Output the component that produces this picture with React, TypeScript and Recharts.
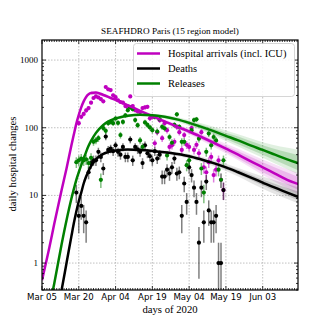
import {
  ComposedChart,
  Line,
  Area,
  Scatter,
  ErrorBar,
  XAxis,
  YAxis,
  CartesianGrid,
} from "recharts";

const W = 332;
const H = 332;
const PLOT_TOP = 40;
const PLOT_LEFT = 42;
const PLOT_RIGHT = 298;
const PLOT_BOTTOM = 290;
const X_MAX = 104.4;

const MAGENTA = "#bf00bf";
const GREEN = "#008000";
const BLACK = "#000000";

// x axis: days since Mar 05 2020
const X_MAJOR = [0, 15, 30, 45, 60, 75, 90];
const X_LABELS = ["Mar 05", "Mar 20", "Apr 04", "Apr 19", "May 04", "May 19", "Jun 03"];
const X_TICKS = Array.from({ length: 105 }, (_, i) => i);

const Y_MAJOR = [1, 10, 100, 1000];
const Y_TICKS = [
  0.4, 0.5, 0.6, 0.7, 0.8, 0.9,
  1, 2, 3, 4, 5, 6, 7, 8, 9,
  10, 20, 30, 40, 50, 60, 70, 80, 90,
  100, 200, 300, 400, 500, 600, 700, 800, 900,
  1000,
];

// observed daily counts
const HOSP_START = 15;
const HOSP_VALUES = [
  117, 145, 160, 180, 195, 235, 275, 290, 280, 265, 246, 400, 370, 360, 302,
  283, 255, 240, 235, 209, 200, 290, 209, 182, 175, 170, 195, 200, 204, 138,
  144, 59, 86, 129, 70, 117, 92, 52, 55, 62, 103, 86, 47, 78, 56,
  52, 99, 47, 56, 42, 86, 26, 22, 31, 37, 20, 24, 33, 17, 12,
];

const DEATH_START = 14;
const DEATH_VALUES = [
  11, 5, 7, 5, 4, 22, 30, 33, 33, 44, 37, 25, 74, 47, 49, 45,
  55, 44, 40, 52, 37, 37, 67, 33, 52, 48, 44, 30, 55, 42, 38,
  33, 45, 35, 40, 19, 19, 24, 21, 26, 35, 21, 22, 5, 15, 8,
  26, 20, 13, 8, 2, 13, 4, 16, 6, 4, 4, 5, 1, 1, 12,
];

const RELEASE_START = 14;
const RELEASE_VALUES = [
  31, 33, 35, 33, 34, 30, 36,
  62, 65, 70, 17, 99, 90, 117, 122, 117, 137,
  118, 78, 122, 153, 182, 200, 188, 130, 109, 65,
  52, 120, 110, 101, 92, 144, 88, 133, 103, 98,
  39, 73, 60, 110, 158, 103, 62, 62, 28, 33,
  92, 130, 133, 69, 25, 11, 44, 82, 55, 73,
  65, 24, 17, 33,
];

// model fits
const MODEL_DAYS = [0, 3, 5, 8, 10, 12, 13, 14, 15, 16, 17, 18, 19, 20, 22, 25, 30, 35, 40, 45, 50, 55, 60, 65, 70, 75, 80, 85, 90, 95, 100, 105];
const HOSP_MODEL = [0.56, 1.7, 3.8, 12, 25, 55, 80, 115, 155, 200, 245, 285, 312, 326, 332, 305, 258, 215, 178, 148, 124, 104, 88, 73, 60, 49, 40, 32, 26, 21, 17, 14.5];
const RELEASE_MODEL = [0.056, 0.22, 0.5, 1.9, 4.3, 9, 12.5, 17, 22, 28, 35, 44, 54, 64, 84, 110, 137, 150, 155, 153, 145, 133, 118, 103, 89, 76, 65, 55, 47, 40, 34, 29.5];
const DEATH_MODEL = [0.01, 0.04, 0.1, 0.4, 1.0, 2.5, 3.9, 5.8, 8.2, 11, 15, 19, 23, 27, 34, 41, 46, 47.5, 47, 45.5, 43.5, 41, 38, 34, 30, 26, 22, 18.5, 15.5, 13, 11, 9.3];

// uncertainty bands
const BAND_DAYS = [20, 25, 30, 40, 50, 60, 70, 80, 90, 105];
const HOSP_OUTER_LO = [302, 288, 246, 170, 116, 80, 52, 33, 20, 10.2];
const HOSP_OUTER_HI = [352, 323, 271, 187, 133, 97, 69, 49, 34, 21];
const HOSP_INNER_LO = [311, 294, 251, 173, 119, 83, 55, 35, 22, 11.8];
const HOSP_INNER_HI = [342, 317, 266, 183, 129, 93, 65, 45, 31, 18.5];
const RELEASE_OUTER_LO = [59, 104, 130, 148, 136, 107, 77, 53, 36, 20];
const RELEASE_OUTER_HI = [69, 117, 144, 163, 155, 130, 103, 80, 61, 47];
const RELEASE_INNER_LO = [61, 106, 133, 151, 140, 111, 81, 57, 40, 23];
const RELEASE_INNER_HI = [67, 114, 141, 159, 150, 125, 97, 74, 55, 39];
const DEATH_OUTER_LO = [25, 39, 44, 45, 41, 35, 27, 19, 12.5, 7.5];
const DEATH_OUTER_HI = [29, 43.5, 48.5, 49.5, 46, 41, 33.5, 25.5, 19, 13];
const DEATH_INNER_LO = [26, 40, 45, 46, 42, 36.5, 28.5, 20.5, 14, 8.3];
const DEATH_INNER_HI = [28, 42, 47, 48, 45, 39.5, 31.5, 24, 17.2, 11.2];

const band = (day: number, lo: number[], hi: number[]) => {
  const i = BAND_DAYS.indexOf(day);
  return i < 0 ? null : [lo[i], hi[i]];
};

const MODEL_ROWS = MODEL_DAYS.map((day, i) => ({
  day,
  hosp: HOSP_MODEL[i],
  release: RELEASE_MODEL[i],
  death: DEATH_MODEL[i],
  hospOuter: band(day, HOSP_OUTER_LO, HOSP_OUTER_HI),
  hospInner: band(day, HOSP_INNER_LO, HOSP_INNER_HI),
  releaseOuter: band(day, RELEASE_OUTER_LO, RELEASE_OUTER_HI),
  releaseInner: band(day, RELEASE_INNER_LO, RELEASE_INNER_HI),
  deathOuter: band(day, DEATH_OUTER_LO, DEATH_OUTER_HI),
  deathInner: band(day, DEATH_INNER_LO, DEATH_INNER_HI),
}));

// poisson error bars, lower end kept inside the axis range
const toPoints = (start: number, values: number[]) =>
  values.map((v, i) => {
    const s = Math.sqrt(v);
    return { day: start + i, value: v, err: [v - Math.max(v - s, 0.41), s] };
  });

const hospPoints = toPoints(HOSP_START, HOSP_VALUES);
const deathPoints = toPoints(DEATH_START, DEATH_VALUES);
const releasePoints = toPoints(RELEASE_START, RELEASE_VALUES);

const dot = (color: string) => (props: any) =>
  <circle cx={props.cx} cy={props.cy} r={2.1} fill={color} />;

const renderXTick = (props: any) => {
  const { x, y, payload } = props;
  const idx = X_MAJOR.indexOf(payload.value);
  const len = idx >= 0 ? 4 : 2;
  return (
    <g>
      <line x1={x} y1={y} x2={x} y2={y - len} stroke="#000" strokeWidth={0.8} />
      <line x1={x} y1={PLOT_TOP} x2={x} y2={PLOT_TOP + len} stroke="#000" strokeWidth={0.8} />
      {idx >= 0 && (
        <text x={x} y={y + 10} textAnchor="middle" fontFamily="DejaVu Sans" fontSize={8.6} fill="#000">
          {X_LABELS[idx]}
        </text>
      )}
    </g>
  );
};

const renderYTick = (props: any) => {
  const { y, payload } = props;
  const major = Y_MAJOR.includes(payload.value);
  const len = major ? 4 : 2;
  return (
    <g>
      <line x1={PLOT_LEFT} y1={y} x2={PLOT_LEFT + len} y2={y} stroke="#000" strokeWidth={0.8} />
      <line x1={PLOT_RIGHT - len} y1={y} x2={PLOT_RIGHT} y2={y} stroke="#000" strokeWidth={0.8} />
      {major && (
        <text x={PLOT_LEFT - 4} y={y + 3} textAnchor="end" fontFamily="Liberation Serif" fontSize={9} fill="#000">
          {payload.value}
        </text>
      )}
    </g>
  );
};

const LEGEND = [
  { label: "Hospital arrivals (incl. ICU)", color: MAGENTA },
  { label: "Deaths", color: BLACK },
  { label: "Releases", color: GREEN },
];

export default function App() {
  return (
    <div style={{ position: "fixed", left: 0, top: 0, width: W, height: H, background: "#fff" }}>
      <ComposedChart
        width={W}
        height={H}
        data={MODEL_ROWS}
        margin={{ top: PLOT_TOP, right: W - PLOT_RIGHT, bottom: 0, left: 0 }}
      >
        <CartesianGrid
          verticalValues={X_MAJOR.slice(1)}
          horizontalValues={Y_MAJOR}
          stroke="#b0b0b0"
          strokeDasharray="1.5 1.5"
          strokeWidth={0.8}
        />
        <XAxis
          dataKey="day"
          type="number"
          domain={[0, X_MAX]}
          allowDataOverflow
          ticks={X_TICKS}
          interval={0}
          tick={renderXTick}
          tickLine={false}
          axisLine={false}
          tickSize={0}
          tickMargin={0}
          height={H - PLOT_BOTTOM}
        />
        <YAxis
          type="number"
          scale="log"
          domain={[0.4, 1980]}
          allowDataOverflow
          ticks={Y_TICKS}
          interval={0}
          tick={renderYTick}
          tickLine={false}
          axisLine={false}
          tickSize={0}
          tickMargin={0}
          width={PLOT_LEFT}
        />

        <Scatter data={hospPoints} dataKey="value" shape={dot(MAGENTA)} isAnimationActive={false}>
          <ErrorBar dataKey="err" direction="y" width={0} stroke="rgba(191,0,191,0.5)" strokeWidth={1.5} />
        </Scatter>
        <Scatter data={deathPoints} dataKey="value" shape={dot(BLACK)} isAnimationActive={false}>
          <ErrorBar dataKey="err" direction="y" width={0} stroke="rgba(0,0,0,0.5)" strokeWidth={1.5} />
        </Scatter>
        <Scatter data={releasePoints} dataKey="value" shape={dot(GREEN)} isAnimationActive={false}>
          <ErrorBar dataKey="err" direction="y" width={0} stroke="rgba(0,128,0,0.5)" strokeWidth={1.5} />
        </Scatter>

        <Area dataKey="hospOuter" type="monotone" stroke="none" fill={MAGENTA} fillOpacity={0.12} connectNulls isAnimationActive={false} />
        <Area dataKey="hospInner" type="monotone" stroke="none" fill={MAGENTA} fillOpacity={0.18} connectNulls isAnimationActive={false} />
        <Area dataKey="releaseOuter" type="monotone" stroke="none" fill={GREEN} fillOpacity={0.12} connectNulls isAnimationActive={false} />
        <Area dataKey="releaseInner" type="monotone" stroke="none" fill={GREEN} fillOpacity={0.18} connectNulls isAnimationActive={false} />
        <Area dataKey="deathOuter" type="monotone" stroke="none" fill={BLACK} fillOpacity={0.1} connectNulls isAnimationActive={false} />
        <Area dataKey="deathInner" type="monotone" stroke="none" fill={BLACK} fillOpacity={0.15} connectNulls isAnimationActive={false} />

        <Line dataKey="hosp" type="monotone" stroke={MAGENTA} strokeWidth={2.5} dot={false} activeDot={false} isAnimationActive={false} zIndex={700} />
        <Line dataKey="death" type="monotone" stroke={BLACK} strokeWidth={2.5} dot={false} activeDot={false} isAnimationActive={false} zIndex={700} />
        <Line dataKey="release" type="monotone" stroke={GREEN} strokeWidth={2.5} dot={false} activeDot={false} isAnimationActive={false} zIndex={700} />
      </ComposedChart>

      <svg width={W} height={H} style={{ position: "absolute", left: 0, top: 0, pointerEvents: "none" }}>
        <rect
          x={PLOT_LEFT}
          y={PLOT_TOP}
          width={PLOT_RIGHT - PLOT_LEFT}
          height={PLOT_BOTTOM - PLOT_TOP}
          fill="none"
          stroke="#000"
          strokeWidth={1.2}
        />
        <text x={170} y={34} textAnchor="middle" fontFamily="Liberation Serif" fontSize={9.2}>
          SEAFHDRO Paris (15 region model)
        </text>
        <text x={170} y={313} textAnchor="middle" fontFamily="Liberation Serif" fontSize={10.7}>
          days of 2020
        </text>
        <text
          transform="translate(15.5,164) rotate(-90)"
          textAnchor="middle"
          fontFamily="Liberation Serif"
          fontSize={10.7}
        >
          daily hospital changes
        </text>

        {/* legend */}
        <rect x={133.5} y={43.5} width={161} height={53} rx={3} fill="rgba(255,255,255,0.85)" stroke="#cccccc" strokeWidth={0.8} />
        {LEGEND.map((item, i) => (
          <g key={item.label}>
            <line x1={137} y1={53.5 + i * 15} x2={160} y2={53.5 + i * 15} stroke={item.color} strokeWidth={2.5} />
            <text x={168} y={57 + i * 15} fontFamily="Liberation Serif" fontSize={10.5} fill="#000">
              {item.label}
            </text>
          </g>
        ))}
      </svg>
    </div>
  );
}
